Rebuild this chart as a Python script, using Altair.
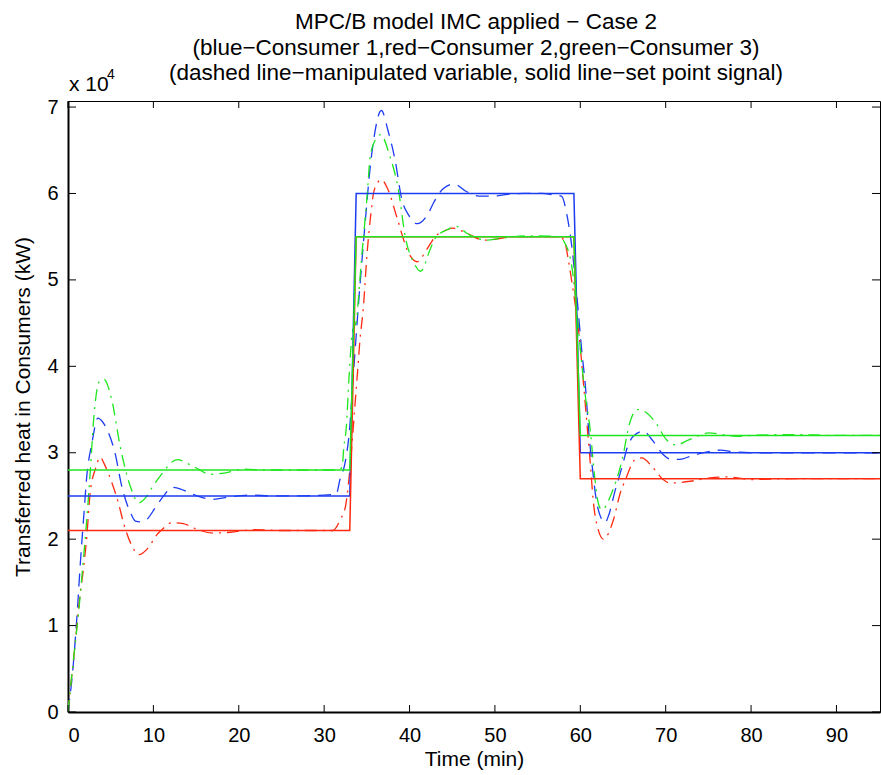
import altair as alt
import pandas as pd

# ---------------- data ----------------
# manipulated variable, Consumer 1 (blue, dashed)
t_blue = [0, 0.5, 1.05, 1.45, 1.85, 2.2, 2.8, 3.5, 4.1, 4.75, 5.5, 6.3, 7.3, 7.9, 8.6, 9.25,
          10.2, 11.2, 12.2, 13.2, 13.9, 15.1, 17, 19, 21.3, 24, 27, 30, 31.4, 31.9, 32.4, 33.0,
          33.4, 33.6, 34.0, 34.8, 35.4, 35.8, 36.7, 37.5, 38.3, 39.1, 39.9, 40.9, 42.2, 42.8,
          44.0, 45.2, 46.7, 48.1, 49.8, 51.5, 53.4, 55.5, 57.0, 57.8, 58.4, 59.0, 59.6, 60.2,
          60.6, 61.0, 61.4, 61.8, 62.5, 62.9, 63.3, 64.1, 64.9, 65.6, 66.2, 67.4, 68.4, 69.7,
          70.7, 72.0, 72.9, 74.0, 76.4, 78.0, 80, 85, 90, 95.1]
v_blue = [0, 0.42, 1.11, 1.73, 2.27, 2.73, 3.11, 3.40, 3.35, 3.23, 3.00, 2.61, 2.31, 2.21, 2.20, 2.23,
          2.36, 2.50, 2.60, 2.58, 2.55, 2.50, 2.46, 2.49, 2.51, 2.50, 2.50, 2.51, 2.52, 2.71, 2.86, 3.30,
          3.88, 4.15, 4.69, 5.66, 6.31, 6.62, 6.96, 6.72, 6.39, 5.93, 5.75, 5.65, 5.77, 5.89,
          6.06, 6.11, 6.02, 5.97, 5.97, 5.99, 6.00, 6.00, 5.98, 5.97, 5.77, 5.39, 4.81, 4.15,
          3.77, 3.23, 2.84, 2.50, 2.23, 2.19, 2.27, 2.57, 2.84, 3.09, 3.19, 3.25, 3.15, 2.98,
          2.92, 2.93, 2.96, 2.99, 3.03, 3.01, 3.00, 3.00, 3.00, 3.00]

# manipulated variable, Consumer 2 (red, dash-dot)
t_red = [0, 0.27, 0.85, 1.4, 1.8, 2.2, 2.6, 3.2, 3.8, 4.2, 5.15, 5.9, 6.5, 7.5, 8.3, 9.4,
         10.4, 10.8, 12.2, 13.5, 14.7, 17, 19, 21.7, 25, 28, 31, 31.9, 32.5, 33.3, 33.6, 33.9,
         34.2, 34.6, 35.0, 35.4, 35.9, 36.7, 37.5, 38.5, 39.9, 40.9, 42.0, 43.0, 44.4, 45.0,
         46.7, 48.7, 50, 52, 55, 57.6, 58.2, 58.6, 59.2, 59.8, 60.4, 60.8, 61.2, 61.5, 62.1,
         62.7, 63.9, 64.7, 65.3, 66.4, 67.2, 68.4, 69.7, 70.5, 72.9, 75.2, 77.2, 80, 85, 90, 95.1]
v_red = [0, 0.26, 0.80, 1.35, 1.65, 2.03, 2.54, 2.81, 2.95, 2.88, 2.65, 2.42, 2.19, 1.92, 1.82, 1.90,
         2.05, 2.09, 2.19, 2.18, 2.13, 2.07, 2.08, 2.11, 2.10, 2.10, 2.10, 2.23, 2.38, 3.15, 3.54, 3.92,
         4.31, 4.69, 5.27, 5.70, 6.05, 6.16, 6.04, 5.73, 5.31, 5.21, 5.35, 5.50, 5.58, 5.60,
         5.54, 5.46, 5.47, 5.50, 5.50, 5.50, 5.43, 5.23, 4.85, 4.42, 3.77, 3.31, 2.84, 2.46, 2.11,
         2.00, 2.23, 2.54, 2.69, 2.92, 2.94, 2.84, 2.69, 2.65, 2.67, 2.71, 2.72, 2.69, 2.70, 2.70, 2.70]

# manipulated variable, Consumer 3 (green, dash-dot)
t_green = [0, 0.27, 0.8, 1.24, 1.7, 2.2, 2.6, 3.0, 3.7, 4.2, 5.15, 6.1, 7.3, 8.3, 9.25, 9.8,
           10.8, 12.8, 14.7, 16.7, 18.6, 20.6, 23, 26, 29, 31.5, 32.1, 32.3, 32.6, 32.9, 33.3, 33.8,
           34.0, 34.4, 35.0, 35.4, 36.0, 36.6, 37.7, 38.7, 39.5, 40.5, 41.3, 42.4, 43.0, 44.4,
           45.5, 46.7, 49.0, 50.6, 53.7, 57.6, 58.0, 59.0, 59.6, 60.2, 60.6, 61.2, 61.6, 62.1,
           62.5, 63.7, 64.9, 65.8, 66.7, 67.8, 68.8, 70.1, 71.3, 72.5, 74.0, 75.0, 78.3, 80, 85, 90, 95.1]
v_green = [0, 0.26, 0.75, 1.15, 1.65, 2.23, 2.77, 3.38, 3.83, 3.85, 3.60, 3.08, 2.61, 2.42, 2.50, 2.59,
           2.73, 2.92, 2.84, 2.75, 2.77, 2.81, 2.80, 2.80, 2.80, 2.80, 2.83, 3.06, 3.30, 3.85, 4.39, 4.54,
           4.77, 5.27, 5.93, 6.43, 6.62, 6.68, 6.43, 6.04, 5.50, 5.20, 5.10, 5.35, 5.48, 5.58,
           5.62, 5.54, 5.46, 5.48, 5.51, 5.50, 5.46, 5.16, 4.62, 4.00, 3.65, 3.23, 2.80, 2.42,
           2.34, 2.54, 2.92, 3.35, 3.50, 3.46, 3.35, 3.15, 3.09, 3.14, 3.20, 3.23, 3.19, 3.20, 3.21, 3.20, 3.20]

# set point signals (solid lines)
t_sp = [0, 33, 33.75, 59.25, 60, 95.1]
sp_blue = [25000, 25000, 60000, 60000, 30000, 30000]
sp_red = [21000, 21000, 55000, 55000, 27000, 27000]
sp_green = [28000, 28000, 55000, 55000, 32000, 32000]

x_ticks = [0, 10, 20, 30, 40, 50, 60, 70, 80, 90]
y_ticks = [0, 10000, 20000, 30000, 40000, 50000, 60000, 70000]

title_lines = [
    "MPC/B model IMC applied \u2212 Case 2",
    "(blue\u2212Consumer 1,red\u2212Consumer 2,green\u2212Consumer 3)",
    "(dashed line\u2212manipulated variable, solid line\u2212set point signal)",
]

BLUE = "#1c3cf2"
RED = "#ff2a10"
GREEN = "#1ee61e"
FONT = "Liberation Sans"

W, H = 812, 611

xs = alt.Scale(domain=[0, 95.1], nice=False, zero=False)
ys = alt.Scale(domain=[0, 70700], nice=False, zero=False)

x_axis = alt.Axis(values=x_ticks, ticks=False, tickSize=0, grid=False, domainColor="black",
                  domainWidth=2, labelFont=FONT, labelFontSize=20, labelColor="black",
                  labelBaseline="alphabetic", labelPadding=29, title="Time (min)",
                  titleFont=FONT, titleFontSize=21, titleFontWeight="normal", titleColor="black",
                  titleX=W / 2, titleY=53, titleBaseline="alphabetic", titleAlign="center")
y_axis = alt.Axis(values=y_ticks, labelExpr="datum.value / 10000", ticks=False, tickSize=0,
                  grid=False, domainColor="black", domainWidth=2, labelFont=FONT, labelFontSize=20,
                  labelColor="black", labelPadding=10, labelBaseline="middle",
                  title="Transferred heat in Consumers (kW)", titleFont=FONT, titleFontSize=21,
                  titleFontWeight="normal", titleColor="black", titleX=-45, titleY=H / 2,
                  titleAngle=270, titleAlign="center", titleBaseline="middle")


def mv_df(t, v):
    return pd.DataFrame({"t": t, "v": [a * 10000 for a in v]})


def sp_df(v):
    return pd.DataFrame({"t": t_sp, "v": v})


def line(df, color, dash=None, width=1.3, interp="monotone"):
    kw = dict(color=color, strokeWidth=width, interpolate=interp, clip=True)
    if dash is not None:
        kw["strokeDash"] = dash
    return alt.Chart(df).mark_line(**kw).encode(
        x=alt.X("t:Q", scale=xs, axis=x_axis),
        y=alt.Y("v:Q", scale=ys, axis=y_axis),
        order="t:Q",
    )


DASH = [13, 8]
DASHDOT = [12, 6, 2, 6]

layers = [
    line(mv_df(t_blue, v_blue), BLUE, DASH),
    line(mv_df(t_red, v_red), RED, DASHDOT),
    line(mv_df(t_green, v_green), GREEN, DASHDOT),
    line(sp_df(sp_blue), BLUE, None, 1.5, "linear"),
    line(sp_df(sp_red), RED, None, 1.5, "linear"),
    line(sp_df(sp_green), GREEN, None, 1.5, "linear"),
]

# inward tick marks on all four sides
xt = pd.DataFrame({"t": x_ticks})
yt = pd.DataFrame({"v": y_ticks})
tick_style = dict(color="black", strokeWidth=1)
layers += [
    alt.Chart(xt).mark_rule(**tick_style).encode(x=alt.X("t:Q", scale=xs), y=alt.value(H), y2=alt.value(H - 7)),
    alt.Chart(xt).mark_rule(**tick_style).encode(x=alt.X("t:Q", scale=xs), y=alt.value(0), y2=alt.value(7)),
    alt.Chart(yt).mark_rule(**tick_style).encode(y=alt.Y("v:Q", scale=ys), x=alt.value(0), x2=alt.value(8)),
    alt.Chart(yt).mark_rule(**tick_style).encode(y=alt.Y("v:Q", scale=ys), x=alt.value(W), x2=alt.value(W - 8)),
]

# exponent label "x 10^4"
one = pd.DataFrame({"a": [0]})
layers += [
    alt.Chart(one).mark_text(text="x 10", font=FONT, fontSize=21, align="left",
                             baseline="alphabetic", color="black").encode(x=alt.value(1), y=alt.value(-10.5)),
    alt.Chart(one).mark_text(text="4", font=FONT, fontSize=14, align="left",
                             baseline="alphabetic", color="black").encode(x=alt.value(39), y=alt.value(-22)),
]

# three-line title
for line_text, yy in zip(title_lines, [-72, -46.3, -21]):
    layers.append(
        alt.Chart(one).mark_text(text=line_text, font=FONT, fontSize=22.5, align="center",
                                 baseline="alphabetic", color="black").encode(x=alt.value(W / 2 + 2), y=alt.value(yy))
    )

chart = alt.layer(*layers).properties(
    width=W, height=H,
    autosize=alt.AutoSizeParams(type="none"),
    padding={"left": 68, "top": 101, "right": 1, "bottom": 63},
    background="white",
).configure_view(stroke="black", strokeWidth=1)

chart.save("out.html", embed_options={"renderer": "svg", "actions": False})
